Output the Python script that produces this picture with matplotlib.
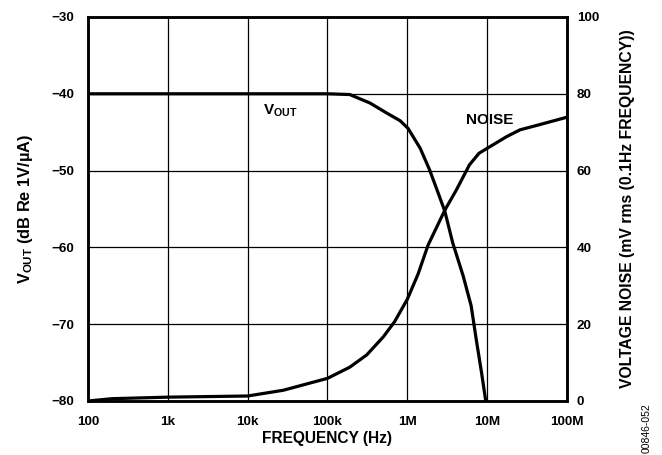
import matplotlib
matplotlib.use('Agg')
import matplotlib.pyplot as plt

# dados
freq_vout = [100, 1e4, 1e5, 1.9e5, 3.4e5, 5.5e5, 8.1e5, 1.02e6, 1.45e6, 1.9e6,
             2.43e6, 2.95e6, 3.7e6, 5e6, 6.3e6, 7.3e6, 8.5e6, 9.6e6]
vout = [-40, -40, -40, -40.1, -41.2, -42.5, -43.5, -44.5, -47.1, -49.9,
        -52.9, -55.3, -59.4, -63.7, -67.6, -72.0, -76.3, -80]

freq_noise = [100, 200, 1e3, 1e4, 2.8e4, 1e5, 1.9e5, 3.1e5, 5e5, 6.9e5,
              1e6, 1.36e6, 1.82e6, 2.95e6, 4.1e6, 6e6, 7.9e6, 1e7,
              1.74e7, 2.57e7, 4.6e7, 1e8]
noise = [0, 0.6, 1.0, 1.3, 2.8, 5.9, 8.8, 12.0, 16.7, 20.6,
         26.5, 33.0, 40.6, 49.7, 54.9, 61.5, 64.5, 65.8,
         68.8, 70.6, 72.0, 73.9]

freq_ticks = [1e2, 1e3, 1e4, 1e5, 1e6, 1e7, 1e8]
freq_labels = ['100', '1k', '10k', '100k', '1M', '10M', '100M']
vout_ticks = [-80, -70, -60, -50, -40, -30]
noise_ticks = [0, 20, 40, 60, 80, 100]

plt.rcParams['font.family'] = 'Liberation Sans'
plt.rcParams['font.weight'] = 'bold'
plt.rcParams['mathtext.fontset'] = 'custom'
plt.rcParams['mathtext.rm'] = 'Liberation Sans:bold'
plt.rcParams['mathtext.bf'] = 'Liberation Sans:bold'
plt.rcParams['mathtext.it'] = 'Liberation Sans:bold'

fig = plt.figure(figsize=(6.62, 4.55), dpi=100)
ax = fig.add_axes([0.1329, 0.1187, 0.7236, 0.8440])
ax2 = ax.twinx()

ax.plot(freq_vout, vout, color='black', lw=2.3, solid_joinstyle='round')
ax2.plot(freq_noise, noise, color='black', lw=2.3, solid_joinstyle='round')

ax.set_xscale('log')
ax.set_xlim(1e2, 1e8)
ax.set_ylim(-80, -30)
ax2.set_ylim(0, 100)

ax.set_xticks(freq_ticks)
ax.set_xticklabels(freq_labels)
ax.minorticks_off()
ax.set_yticks(vout_ticks)
ax2.set_yticks(noise_ticks)

ax.grid(True, color='black', lw=0.9)
ax.tick_params(axis='x', length=0, labelsize=9.7, pad=11)
ax.tick_params(axis='y', length=0, labelsize=9.7, pad=10)
ax2.tick_params(length=0, labelsize=9.7, pad=7)

for a in (ax, ax2):
    for s in a.spines.values():
        s.set_linewidth(1.8)

ax.set_xlabel('FREQUENCY (Hz)', fontsize=11.2, fontweight='bold', labelpad=2)
ax.set_ylabel(r'V$_{\mathrm{OUT}}$ (dB Re 1V/µA)', fontsize=11.8, fontweight='bold',
              labelpad=12)
ax2.set_ylabel('VOLTAGE NOISE (mV rms (0.1Hz FREQUENCY))', fontsize=11.3,
               fontweight='bold', labelpad=15)

ax.text(1.55e4, -41.2, r'V$_{\mathrm{OUT}}$', fontsize=11, fontweight='bold', va='top')
ax.text(5.5e6, -43.35, 'NOISE', fontsize=11, fontweight='bold', va='center')

fig.text(647 / 662, 1 - 428 / 455, '00846-052', rotation=90, fontsize=7.5,
         fontweight='normal', ha='center', va='center')

fig.savefig('out.png', dpi=100)
